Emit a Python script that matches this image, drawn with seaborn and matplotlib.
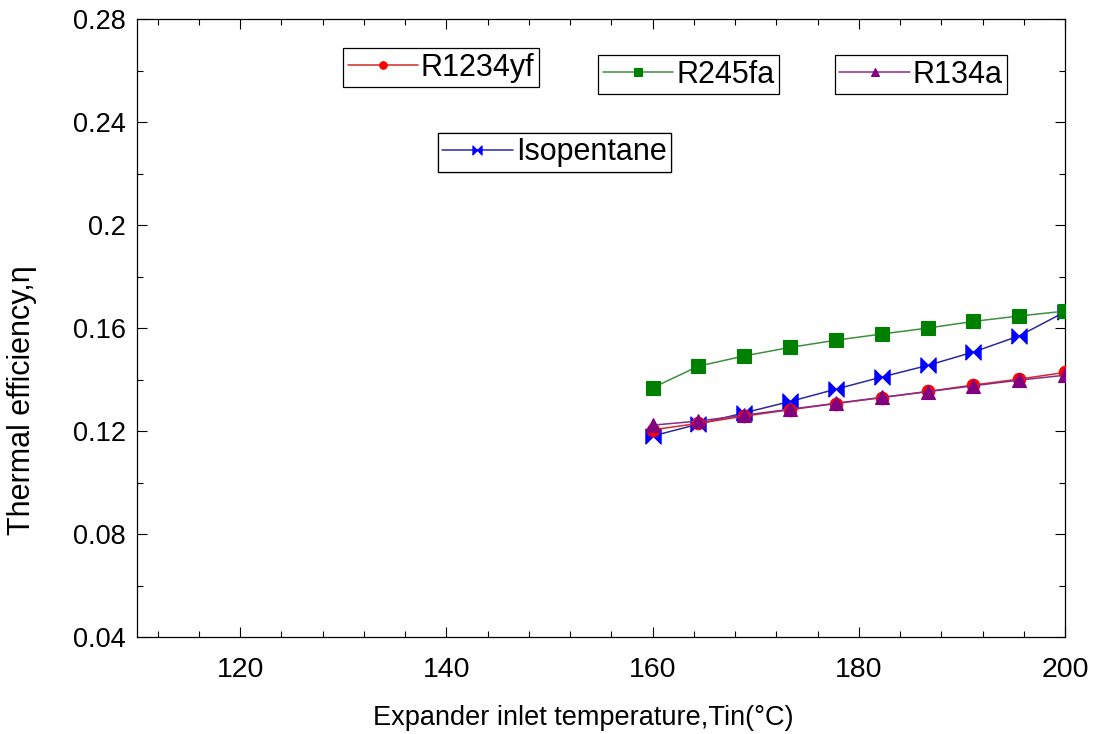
import numpy as np
import pandas as pd
import matplotlib
matplotlib.use("Agg")
import matplotlib.pyplot as plt
from matplotlib.ticker import MultipleLocator
import seaborn as sns

# ---- data ----
temps = [160.0, 164.44, 168.89, 173.33, 177.78, 182.22, 186.67, 191.11, 195.56, 200.0]
r1234yf = [0.1205, 0.1230, 0.1258, 0.1283, 0.1307, 0.1330, 0.1354, 0.1379, 0.1402, 0.1428]
r245fa = [0.1368, 0.1452, 0.1492, 0.1525, 0.1553, 0.1577, 0.1600, 0.1626, 0.1647, 0.1666]
r134a = [0.1223, 0.1239, 0.1262, 0.1285, 0.1308, 0.1331, 0.1353, 0.1376, 0.1398, 0.1417]
isopentane = [0.1181, 0.1227, 0.1271, 0.1315, 0.1363, 0.1410, 0.1455, 0.1507, 0.1570, 0.1663]
series_names = ["R1234yf", "R245fa", "R134a", "Isopentane"]
x_ticks = [120, 140, 160, 180, 200]
y_ticks = [0.04, 0.08, 0.12, 0.16, 0.2, 0.24, 0.28]
y_tick_labels = ["0.04", "0.08", "0.12", "0.16", "0.2", "0.24", "0.28"]

values = {"R1234yf": r1234yf, "R245fa": r245fa, "R134a": r134a, "Isopentane": isopentane}
df = pd.concat([pd.DataFrame({"T": temps, "eta": v, "fluid": k}) for k, v in values.items()],
               ignore_index=True)

sns.set_style("ticks")
plt.rcParams['font.family'] = ['Liberation Sans', 'DejaVu Sans']
plt.rcParams['text.color'] = 'black'
plt.rcParams['axes.labelcolor'] = 'black'
plt.rcParams['xtick.color'] = 'black'
plt.rcParams['ytick.color'] = 'black'

bowtie = [(-1, -1), (-1, 1), (0, 0), (1, 1), (1, -1), (0, 0), (-1, -1)]

styles = {
    "R1234yf": dict(line="#d42a2a", mfc="#ff0000", marker="o", ms=9),
    "R245fa": dict(line="#3f8f3f", mfc="#008000", marker="s", ms=10),
    "R134a": dict(line="#8a2a8a", mfc="#800080", marker="^", ms=10),
    "Isopentane": dict(line="#2a2aa0", mfc="#0000ff", marker=bowtie, ms=11),
}
draw_order = ["Isopentane", "R245fa", "R1234yf", "R134a"]

fig = plt.figure(figsize=(10.99, 7.34), dpi=100)
ax = fig.add_axes([0.1247, 0.132, 0.8444, 0.842])

lines = {}
for name in draw_order:
    st = styles[name]
    sub = df[df["fluid"] == name]
    sns.lineplot(data=sub, x="T", y="eta", ax=ax, color=st["line"], lw=1.1,
                 marker=st["marker"], markersize=st["ms"], markerfacecolor=st["mfc"],
                 markeredgecolor=st["mfc"], markeredgewidth=0.8, label=name,
                 estimator=None, sort=False, zorder=3)
    lines[name] = ax.get_lines()[-1]
if ax.get_legend() is not None:
    ax.get_legend().remove()

ax.set_xlim(110, 200)
ax.set_ylim(0.04, 0.28)
ax.set_xticks(x_ticks)
ax.set_yticks(y_ticks)
ax.set_yticklabels(y_tick_labels)
ax.xaxis.set_minor_locator(MultipleLocator(4))
ax.yaxis.set_minor_locator(MultipleLocator(0.02))
ax.tick_params(which="both", direction="in", top=True, right=True, width=0.8, colors="black")
ax.tick_params(which="major", length=7)
ax.tick_params(which="minor", length=4)
ax.tick_params(axis="x", which="major", labelsize=20.5, pad=14)
ax.tick_params(axis="y", which="major", labelsize=19.5, pad=8)
for s in ax.spines.values():
    s.set_visible(True)
    s.set_linewidth(0.9)
    s.set_color("black")

ax.set_xlabel("Expander inlet temperature,Tin(°C)", fontsize=19.5, color="black")
ax.set_ylabel("Thermal efficiency,η", fontsize=22, color="black")
ax.xaxis.set_label_coords(0.481, -0.11)
ax.yaxis.set_label_coords(-0.108, 0.383)

legend_pos = {
    "R1234yf": (0.222, 0.953),
    "R245fa": (0.497, 0.942),
    "R134a": (0.752, 0.942),
    "Isopentane": (0.324, 0.816),
}
for name in series_names:
    leg = ax.legend([lines[name]], [name], loc="upper left", bbox_to_anchor=legend_pos[name],
                    fontsize=22, frameon=True, fancybox=False, edgecolor="black",
                    framealpha=1, borderpad=0.15, handlelength=2.3, handletextpad=0.1,
                    borderaxespad=0, markerscale=0.6, labelcolor="black")
    leg.get_frame().set_linewidth(0.9)
    ax.add_artist(leg)

fig.savefig("out.png", dpi=100)
